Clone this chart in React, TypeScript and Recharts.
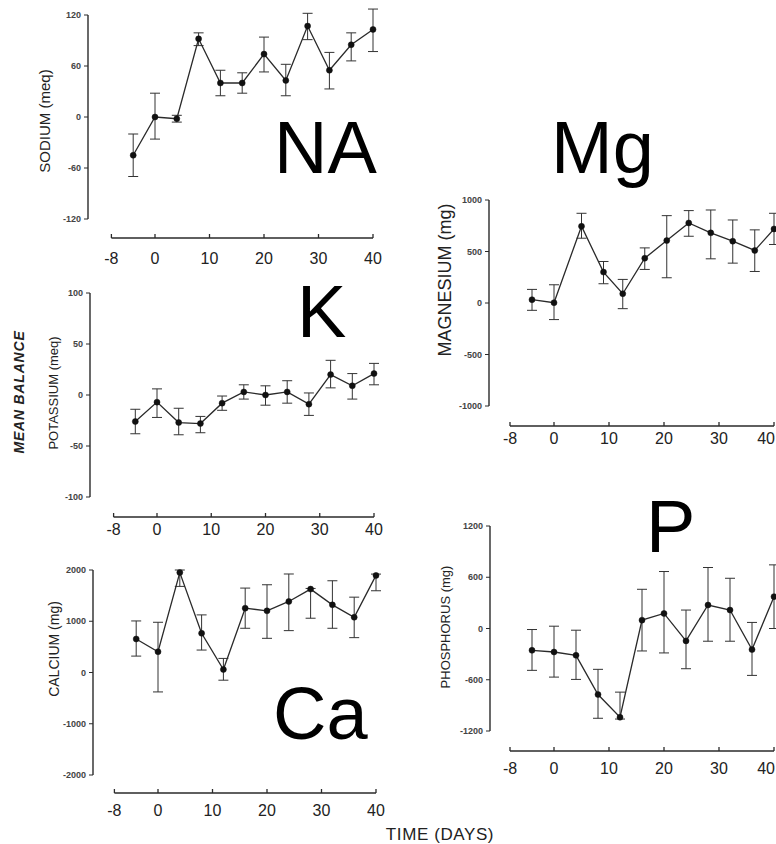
import React from 'react'
import { ComposedChart, Line, XAxis, YAxis, ErrorBar, ReferenceLine } from 'recharts'

// sampling days (4-day balance periods)
const days = [-4, 0, 4, 8, 12, 16, 20, 24, 28, 32, 36, 40]
const mgDays = [-4, 0, 5, 9, 12.5, 16.5, 20.5, 24.5, 28.5, 32.5, 36.5, 40]
const dayTicks = [-8, 0, 10, 20, 30, 40]

// sodium (meq)
const naMean = [-45, 0, -2, 92, 40, 40, 74, 43, 107, 55, 85, 103]
const naLow = [-70, -26, -6, 84, 25, 28, 53, 25, 91, 33, 66, 77]
const naHigh = [-20, 28, 2, 99, 55, 52, 94, 62, 122, 76, 99, 127]
const naTicks = [-120, -60, 0, 60, 120]

// potassium (meq)
const kMean = [-26, -7, -27, -28, -8, 3, 0, 3, -9, 20, 9, 21]
const kLow = [-38, -22, -39, -37, -15, -4, -10, -8, -20, 7, -4, 10]
const kHigh = [-14, 6, -13, -21, -1, 10, 9, 14, 2, 34, 21, 31]
const kTicks = [-100, -50, 0, 50, 100]

// calcium (mg)
const caMean = [654, 405, 1950, 765, 59, 1255, 1203, 1386, 1627, 1320, 1078, 1895]
const caLow = [320, -379, 1680, 438, -150, 863, 667, 817, 1059, 863, 680, 1595]
const caHigh = [1006, 980, 2000, 1124, 275, 1647, 1712, 1922, 1640, 1790, 1470, 1920]
const caTicks = [-2000, -1000, 0, 1000, 2000]

// magnesium (mg)
const mgMean = [32, 3, 745, 300, 90, 435, 606, 777, 681, 600, 510, 719]
const mgLow = [-71, -161, 629, 187, -55, 326, 245, 648, 429, 387, 306, 568]
const mgHigh = [132, 177, 871, 403, 229, 535, 848, 897, 903, 806, 710, 871]
const mgTicks = [-1000, -500, 0, 500, 1000]

// phosphorus (mg)
const pMean = [-255, -275, -314, -773, -1039, 98, 176, -145, 275, 216, -247, 373]
const pLow = [-490, -569, -596, -1051, -1060, -263, -286, -471, -149, -149, -549, 0]
const pHigh = [-12, 27, -20, -478, -745, 459, 667, 216, 714, 588, 71, 745]
const pTicks = [-1200, -600, 0, 600, 1200]

const INK = '#2a2a2a'
const YW = 50
const XH = 40
const PAGE_W = 776

interface PanelProps {
  x: number[]
  mean: number[]
  low: number[]
  high: number[]
  yTicks: number[]
  // pixel geometry of the scanned panel
  axisX: number
  x0: number
  x40: number
  yTopPx: number
  yBotPx: number
  lineY: number
  labelGap: number
}

function buildRows(x: number[], mean: number[], low: number[], high: number[]) {
  return x.map((d, i) => ({ day: d, v: mean[i], err: [mean[i] - low[i], high[i] - mean[i]] }))
}

function Panel({ x, mean, low, high, yTicks, axisX, x0, x40, yTopPx, yBotPx, lineY, labelGap }: PanelProps) {
  const data = buildRows(x, mean, low, high)
  const yMin = yTicks[0]
  const yMax = yTicks[yTicks.length - 1]

  const pxX = (x40 - x0) / 40
  const padR = 14
  const xMin = -(x0 - axisX) / pxX
  const xMax = 40 + padR / pxX
  const plotW = x40 + padR - axisX

  const padT = 14
  const pxY = (yBotPx - yTopPx) / (yMax - yMin)
  const yTopVal = yMax + padT / pxY
  const yBotVal = yMin - (lineY - yBotPx) / pxY
  const plotTop = yTopPx - padT
  const plotH = lineY - plotTop

  const left = axisX - YW
  const width = YW + plotW
  const height = plotH + XH

  const renderTick = (p: any) => {
    // keep the last label inside the page when the panel runs to the edge
    const overflow = left + p.x + 10 > PAGE_W
    return (
      <g>
        <line x1={p.x} x2={p.x} y1={p.y - 4} y2={p.y} stroke={INK} strokeWidth={1.3} />
        <text
          x={overflow ? PAGE_W - left - 1 : p.x}
          y={p.y + labelGap + 6}
          textAnchor={overflow ? 'end' : 'middle'}
          fontSize={16}
          fill="#222"
        >
          {p.payload.value}
        </text>
      </g>
    )
  }

  return (
    <div style={{ position: 'absolute', left, top: plotTop, width, height }}>
      <ComposedChart width={width} height={height} data={data} margin={{ top: 0, right: 0, bottom: 0, left: 0 }}>
        <XAxis
          dataKey="day"
          type="number"
          domain={[xMin, xMax]}
          allowDataOverflow
          ticks={dayTicks}
          interval={0}
          axisLine={false}
          tickLine={false}
          tickSize={0}
          tickMargin={0}
          height={XH}
          tick={renderTick}
        />
        <YAxis
          type="number"
          domain={[yBotVal, yTopVal]}
          allowDataOverflow
          ticks={yTicks}
          interval={0}
          axisLine={false}
          tickLine={{ stroke: INK }}
          tickSize={4}
          tickMargin={3}
          width={YW}
          tick={{ fontSize: 9, fontWeight: 700, fill: '#444' }}
        />
        <ReferenceLine
          segment={[{ x: xMin, y: yMin }, { x: xMin, y: yMax }]}
          stroke={INK}
          strokeWidth={1.4}
          ifOverflow="visible"
        />
        <ReferenceLine
          segment={[{ x: -8, y: yBotVal }, { x: 40, y: yBotVal }]}
          stroke={INK}
          strokeWidth={1.4}
          ifOverflow="visible"
        />
        <Line
          dataKey="v"
          type="linear"
          stroke={INK}
          strokeWidth={1.3}
          dot={{ r: 3, fill: '#111', stroke: '#111', strokeWidth: 0.5 }}
          isAnimationActive={false}
        >
          <ErrorBar dataKey="err" direction="y" width={5} stroke="#333" strokeWidth={1} isAnimationActive={false} />
        </Line>
      </ComposedChart>
    </div>
  )
}

function VLabel({ cx, cy, size, children, bold }: { cx: number; cy: number; size: number; children: string; bold?: boolean }) {
  const base = cx + size * 0.36
  return (
    <text
      transform={`translate(${base},${cy}) rotate(-90)`}
      textAnchor="middle"
      fontSize={size}
      fill="#222"
      fontWeight={bold ? 700 : 400}
      fontStyle={bold ? 'italic' : 'normal'}
      letterSpacing={bold ? 0.8 : 0}
    >
      {children}
    </text>
  )
}

export default function App() {
  return (
    <div
      style={{
        position: 'absolute',
        left: 0,
        top: 0,
        width: PAGE_W,
        height: 844,
        overflow: 'hidden',
        background: '#fff',
        fontFamily: '"Liberation Sans", Arial, sans-serif',
      }}
    >
      <Panel x={days} mean={naMean} low={naLow} high={naHigh} yTicks={naTicks}
        axisX={88} x0={155} x40={373} yTopPx={15} yBotPx={219} lineY={238} labelGap={20} />
      <Panel x={days} mean={kMean} low={kLow} high={kHigh} yTicks={kTicks}
        axisX={90} x0={157} x40={374} yTopPx={293} yBotPx={497} lineY={517} labelGap={12} />
      <Panel x={days} mean={caMean} low={caLow} high={caHigh} yTicks={caTicks}
        axisX={93} x0={158} x40={376} yTopPx={570} yBotPx={775} lineY={793} labelGap={17} />
      <Panel x={mgDays} mean={mgMean} low={mgLow} high={mgHigh} yTicks={mgTicks}
        axisX={489} x0={554} x40={774} yTopPx={200} yBotPx={406} lineY={426} labelGap={12} />
      <Panel x={days} mean={pMean} low={pLow} high={pHigh} yTicks={pTicks}
        axisX={490} x0={554} x40={774} yTopPx={526} yBotPx={731} lineY={751} labelGap={17} />

      <svg width={PAGE_W} height={844} style={{ position: 'absolute', left: 0, top: 0, pointerEvents: 'none' }}>
        <g fontSize={74} fill="#000">
          <text x={274} y={173}>NA</text>
          <text x={551} y={173}>Mg</text>
          <text x={297} y={337}>K</text>
          <text x={646} y={552}>P</text>
          <text x={273} y={739}>Ca</text>
        </g>
        <VLabel cx={19} cy={392} size={14} bold>MEAN BALANCE</VLabel>
        <VLabel cx={45} cy={121} size={15}>SODIUM (meq)</VLabel>
        <VLabel cx={53} cy={393} size={13}>POTASSIUM (meq)</VLabel>
        <VLabel cx={54} cy={649} size={14}>CALCIUM (mg)</VLabel>
        <VLabel cx={445} cy={280} size={18}>MAGNESIUM (mg)</VLabel>
        <VLabel cx={445} cy={627} size={13}>PHOSPHORUS (mg)</VLabel>
        <text x={440} y={840} textAnchor="middle" fontSize={17} letterSpacing={0.6} fill="#222">
          TIME (DAYS)
        </text>
      </svg>
    </div>
  )
}
